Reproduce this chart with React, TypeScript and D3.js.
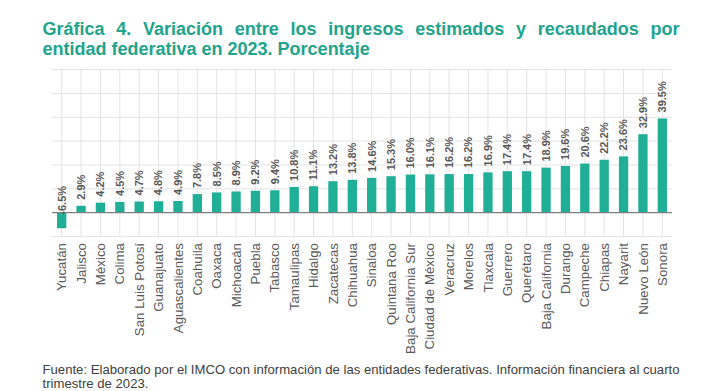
import React, { useLayoutEffect, useRef, useState } from "react";
import * as d3 from "d3";

const categories = [
  "Yucatán", "Jalisco", "México", "Colima", "San Luis Potosí", "Guanajuato",
  "Aguascalientes", "Coahuila", "Oaxaca", "Michoacán", "Puebla", "Tabasco",
  "Tamaulipas", "Hidalgo", "Zacatecas", "Chihuahua", "Sinaloa", "Quintana Roo",
  "Baja California Sur", "Ciudad de México", "Veracruz", "Morelos", "Tlaxcala",
  "Guerrero", "Querétaro", "Baja California", "Durango", "Campeche", "Chiapas",
  "Nayarit", "Nuevo León", "Sonora",
];
const values = [
  -6.5, 2.9, 4.2, 4.5, 4.7, 4.8, 4.9, 7.8, 8.5, 8.9, 9.2, 9.4, 10.8, 11.1, 13.2,
  13.8, 14.6, 15.3, 16.0, 16.1, 16.2, 16.2, 16.9, 17.4, 17.4, 18.9, 19.6, 20.6,
  22.2, 23.6, 32.9, 39.5,
];
const gridTicks = [-10, 10, 20, 30, 40, 50, 60];
const titleLines = [
  "Gráfica 4. Variación entre los ingresos estimados y recaudados por",
  "entidad federativa en 2023. Porcentaje",
];
const sourceLines = [
  "Fuente: Elaborado por el IMCO con información de las entidades federativas. Información financiera al cuarto",
  "trimestre de 2023.",
];

const FONT = "'Liberation Sans', Arial, Helvetica, sans-serif";

export default function App() {
  const W = 722, H = 391;
  const x = d3.scaleBand<string>().domain(categories).range([52, 672]).paddingInner(0.52).paddingOuter(0.26);
  const y = d3.scaleLinear().domain([-10, 60]).range([236.55, 69.6]);
  const titleRef = useRef<SVGTextElement>(null);
  const src1Ref = useRef<SVGTextElement>(null);
  const src2Ref = useRef<SVGTextElement>(null);
  const [ws, setWs] = useState(0);
  const [srcLen, setSrcLen] = useState<[number, number] | null>(null);
  useLayoutEffect(() => {
    const el = titleRef.current;
    if (el) {
      const natural = el.getComputedTextLength();
      const spaces = titleLines[0].split(" ").length - 1;
      setWs((637 - natural) / spaces);
    }
    if (src1Ref.current && src2Ref.current) {
      const n1 = src1Ref.current.getComputedTextLength();
      const n2 = src2Ref.current.getComputedTextLength();
      const k = 637 / n1;
      setSrcLen([637, n2 * k]);
    }
  }, []);
  const labelColor = "#595959";
  const barColor = "#1fae96";
  return (
    <svg width={W} height={H} style={{ position: "absolute", left: 0, top: 0, background: "#fff" }} fontFamily={FONT}>
      <text ref={titleRef} x={42.5} y={35} fontSize={18} fontWeight="bold" fill="#21a38c" style={{ wordSpacing: ws ? `${ws}px` : undefined }}>
        {titleLines[0]}
      </text>
      <text x={42.5} y={55} fontSize={18} fontWeight="bold" fill="#21a38c">{titleLines[1]}</text>

      {gridTicks.map((t) => (
        <line key={"h" + t} x1={52} x2={672} y1={y(t)} y2={y(t)} stroke="#e3e3e3" strokeWidth={1} />
      ))}
      {categories.map((c) => {
        const cx = (x(c) as number) + x.bandwidth() / 2;
        return <line key={"v" + c} x1={cx} x2={cx} y1={y(60)} y2={y(-10)} stroke="#e3e3e3" strokeWidth={1} />;
      })}
      {categories.map((c, i) => {
        const v = values[i];
        return (
          <rect key={"b" + c} x={x(c)} width={x.bandwidth()} y={y(Math.max(0, v))} height={Math.abs(y(v) - y(0))} fill={barColor} />
        );
      })}
      <line x1={52} x2={672} y1={y(0)} y2={y(0)} stroke="#7f7f7f" strokeWidth={1.3} />
      {categories.map((c, i) => {
        const v = values[i];
        const cx = (x(c) as number) + x.bandwidth() / 2;
        const sy = v >= 0 ? y(v) - 6 : y(0) + 2;
        return (
          <text key={"l" + c} transform={`translate(${cx},${sy}) rotate(-90)`} dy="0.35em" fontSize={11} fontWeight="bold" fill={labelColor}>
            {v.toFixed(1) + "%"}
          </text>
        );
      })}
      {categories.map((c) => {
        const cx = (x(c) as number) + x.bandwidth() / 2;
        return (
          <text key={"c" + c} transform={`translate(${cx},${243}) rotate(-90)`} dy="0.35em" fontSize={13.3} textAnchor="end" fill={labelColor}>
            {c}
          </text>
        );
      })}
      <text ref={src1Ref} x={42.5} y={373.5} fontSize={12.2} fill="#404040"
        textLength={srcLen ? srcLen[0] : undefined} lengthAdjust="spacingAndGlyphs">{sourceLines[0]}</text>
      <text ref={src2Ref} x={42.5} y={387.5} fontSize={12.2} fill="#404040"
        textLength={srcLen ? srcLen[1] : undefined} lengthAdjust="spacingAndGlyphs">{sourceLines[1]}</text>
    </svg>
  );
}
